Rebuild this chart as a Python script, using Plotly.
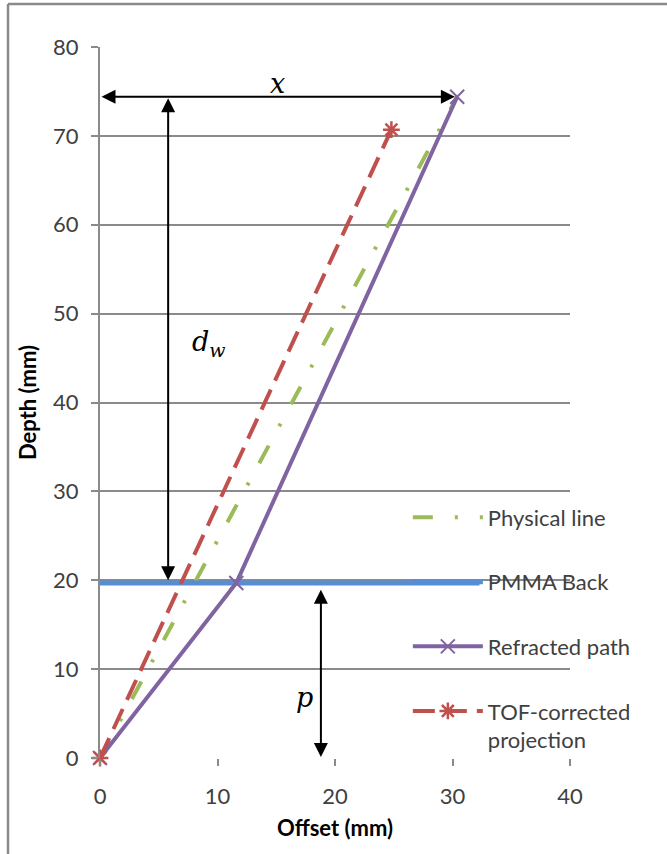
import plotly.graph_objects as go

# Ray geometry through the PMMA wedge (offset / depth in mm)
physical_x = [0, 30.4]
physical_y = [0, 74.4]

pmma_back_x = [0, 32.3]
pmma_back_y = [19.7, 19.7]

refracted_x = [0, 11.6, 30.4]
refracted_y = [0, 19.7, 74.4]

tof_x = [0, 24.8]
tof_y = [0, 70.7]

x_ticks = [0, 10, 20, 30, 40]
y_ticks = [0, 10, 20, 30, 40, 50, 60, 70, 80]

FONT = "Lato, 'Open Sans', sans-serif"
GRID = "#8a8a8a"
TEXT = "#404040"

fig = go.Figure()

fig.add_trace(go.Scatter(
    x=physical_x, y=physical_y, mode="lines", name="Physical line",
    legendgroup="a",
    line=dict(color="#9BBB59", width=4, dash="20px,22px,3px,22px"),
    cliponaxis=False,
))
fig.add_trace(go.Scatter(
    x=pmma_back_x, y=pmma_back_y, mode="lines", name="PMMA Back",
    legendgroup="b",
    line=dict(color="#558ED5", width=5),
    cliponaxis=False,
))
fig.add_trace(go.Scatter(
    x=refracted_x, y=refracted_y, mode="lines+markers", name="Refracted path",
    legendgroup="c",
    line=dict(color="#8064A2", width=4),
    marker=dict(symbol="x-thin-open", size=14, color="#8064A2",
                line=dict(color="#8064A2", width=2)),
    cliponaxis=False,
))
fig.add_trace(go.Scatter(
    x=tof_x, y=tof_y, mode="lines+markers", name="TOF-corrected<br>projection",
    legendgroup="d",
    line=dict(color="#C0504D", width=4, dash="22px,10px"),
    marker=dict(symbol="asterisk-open", size=14, color="#C0504D",
                line=dict(color="#C0504D", width=2.5)),
    cliponaxis=False,
))

# Dimension arrows: x (horizontal), d_w and p (vertical)
arrows = [
    (0, 74.4, 30.2, 74.4),
    (5.8, 74.4, 5.8, 20.0),
    (18.8, 19.1, 18.8, 0.1),
]
for x0, y0, x1, y1 in arrows:
    fig.add_annotation(
        x=x1, y=y1, ax=x0, ay=y0, xref="x", yref="y", axref="x", ayref="y",
        text="", showarrow=True, arrowside="end+start", arrowhead=2,
        arrowsize=1.4, arrowwidth=2, arrowcolor="black", standoff=0,
        startstandoff=0,
    )

label_font = dict(family="'DejaVu Serif', serif", size=27, color="black")
fig.add_annotation(x=15.1, y=75.9, xref="x", yref="y", text="<i>x</i>",
                   showarrow=False, font=label_font)
fig.add_annotation(x=9.2, y=46.6, xref="x", yref="y",
                   text="<i>d<sub>w</sub></i>", showarrow=False, font=label_font)
fig.add_annotation(x=17.4, y=6.8, xref="x", yref="y", text="<i>p</i>",
                   showarrow=False, font=label_font)

# Outer chart frame (top and left edges)
frame = dict(color="#8a8a8a", width=2.5)
fig.add_shape(type="line", xref="paper", yref="paper",
              x0=-0.1957, x1=1.25, y0=1.0605, y1=1.0605, line=frame)
fig.add_shape(type="line", xref="paper", yref="paper",
              x0=-0.1957, x1=-0.1957, y0=1.0605, y1=-0.2, line=frame)

fig.update_layout(
    width=667, height=854,
    margin=dict(l=100, r=97, t=47, b=96),
    paper_bgcolor="white", plot_bgcolor="white",
    font=dict(family=FONT, size=22, color=TEXT),
    showlegend=True,
    legend=dict(
        x=0.655, y=0.368, xanchor="left", yanchor="top",
        bgcolor="rgba(0,0,0,0)", font=dict(size=22, color=TEXT),
        tracegroupgap=33, itemwidth=70, valign="top",
    ),
)

fig.update_xaxes(
    range=[0, 40], tickvals=x_ticks, showgrid=False, zeroline=False,
    showline=False, ticks="outside", ticklen=7, tickcolor=GRID, tickwidth=2,
    ticklabelstandoff=12,
    tickfont=dict(size=22, color=TEXT),
    title=dict(text="<b>Offset (mm)</b>", font=dict(size=22, color="black"),
               standoff=12),
)
fig.update_yaxes(
    range=[0, 80], tickvals=y_ticks, showgrid=True, gridcolor=GRID, gridwidth=2,
    zeroline=False, showline=True, linecolor=GRID, linewidth=2,
    ticks="outside", ticklen=7, tickcolor=GRID, tickwidth=2,
    ticklabelstandoff=8,
    tickfont=dict(size=22, color=TEXT),
    title=dict(text="<b>Depth (mm)</b>", font=dict(size=22, color="black"),
               standoff=10),
)

fig.write_html("out.html")
